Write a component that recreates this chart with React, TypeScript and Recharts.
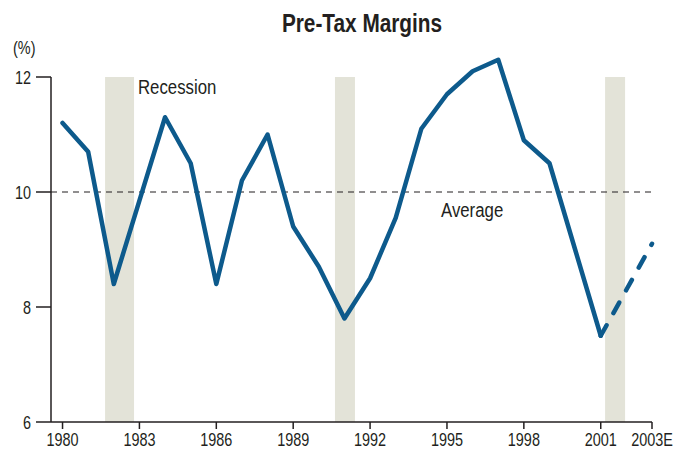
import { ComposedChart, Line, XAxis, YAxis, ReferenceArea, ReferenceLine } from 'recharts';

const years = [1980, 1981, 1982, 1983, 1984, 1985, 1986, 1987, 1988, 1989, 1990, 1991, 1992, 1993, 1994, 1995, 1996, 1997, 1998, 1999, 2000, 2001, 2002, 2003];
const actualMargins = [11.2, 10.7, 8.4, 9.85, 11.3, 10.5, 8.4, 10.2, 11.0, 9.4, 8.7, 7.8, 8.5, 9.55, 11.1, 11.7, 12.1, 12.3, 10.9, 10.5, 9.0, 7.5, null, null];
const estMargins = [null, null, null, null, null, null, null, null, null, null, null, null, null, null, null, null, null, null, null, null, null, 7.5, 8.3, 9.1];
const xTicks = [1980, 1983, 1986, 1989, 1992, 1995, 1998, 2001, 2003];
const yTicks = [6, 8, 10, 12];
const recessions = [
  [1981.66, 1982.79],
  [1990.63, 1991.41],
  [2001.17, 2001.95],
];
const average = 10;

const data = years.map((year, i) => ({ year, actual: actualMargins[i], est: estMargins[i] }));

const FONT = "'Liberation Sans', Arial, sans-serif";
const BLUE = '#0d5a8c';
const INK = '#231f20';

// condensed text: Arial-like face squeezed horizontally
function Narrow({ x, y, size, anchor = 'start', bold = false, squeeze = 0.8, children }: any) {
  return (
    <text
      transform={`translate(${x},${y}) scale(${squeeze},1)`}
      textAnchor={anchor}
      fontSize={size}
      fontWeight={bold ? 'bold' : 'normal'}
      fontFamily={FONT}
      fill={INK}
    >
      {children}
    </text>
  );
}

function XTick({ x, y, payload }: any) {
  const v = payload.value;
  return <Narrow x={x} y={y + 15} size={18.5} squeeze={0.78} anchor="middle">{v === 2003 ? '2003E' : String(v)}</Narrow>;
}

function YTick({ x, y, payload }: any) {
  return <Narrow x={x - 3} y={y + 7} size={19} squeeze={0.76} anchor="end">{String(payload.value)}</Narrow>;
}

export default function App() {
  return (
    <div style={{ position: 'absolute', left: 0, top: 0, width: 673, height: 450, background: '#fff' }}>
      <ComposedChart width={673} height={450} data={data} margin={{ top: 42.5, right: 21, bottom: 0, left: 0 }}>
        {recessions.map(([a, b], i) => (
          <ReferenceArea key={`rec-${i}`} x1={a} x2={b} y1={6} y2={12} fill="#e3e3d8" fillOpacity={1} stroke="none" />
        ))}
        <ReferenceLine y={average} stroke={INK} strokeWidth={1.2} strokeDasharray="6 5" />
        <ReferenceLine segment={[{ x: 1979.55, y: 6 }, { x: 1979.55, y: 12 }]} stroke={INK} strokeWidth={1.5} />
        <XAxis
          dataKey="year"
          type="number"
          domain={[1979.55, 2003]}
          ticks={xTicks}
          height={28}
          tickSize={7}
          axisLine={{ stroke: INK, strokeWidth: 1.5 }}
          tickLine={{ stroke: INK, strokeWidth: 1.5 }}
          tick={<XTick />}
          interval={0}
        />
        <YAxis
          type="number"
          domain={[6, 12.6]}
          ticks={yTicks}
          width={51}
          tickSize={15}
          axisLine={false}
          tickLine={{ stroke: INK, strokeWidth: 1.5 }}
          tick={<YTick />}
          interval={0}
        />
        <Line dataKey="actual" stroke={BLUE} strokeWidth={4.5} dot={false} strokeLinejoin="round" strokeLinecap="round" isAnimationActive={false} connectNulls={false} />
        <Line dataKey="est" stroke={BLUE} strokeWidth={4.5} dot={false} strokeDasharray="12 14" strokeLinecap="round" isAnimationActive={false} connectNulls={false} />
      </ComposedChart>
      <svg width={673} height={450} style={{ position: 'absolute', left: 0, top: 0, pointerEvents: 'none' }}>
        <Narrow x={362} y={32} size={26} anchor="middle" bold>Pre-Tax Margins</Narrow>
        <Narrow x={13} y={54} size={19} squeeze={0.76}>(%)</Narrow>
        <Narrow x={138} y={94} size={21}>Recession</Narrow>
        <Narrow x={441} y={217} size={21}>Average</Narrow>
      </svg>
    </div>
  );
}
